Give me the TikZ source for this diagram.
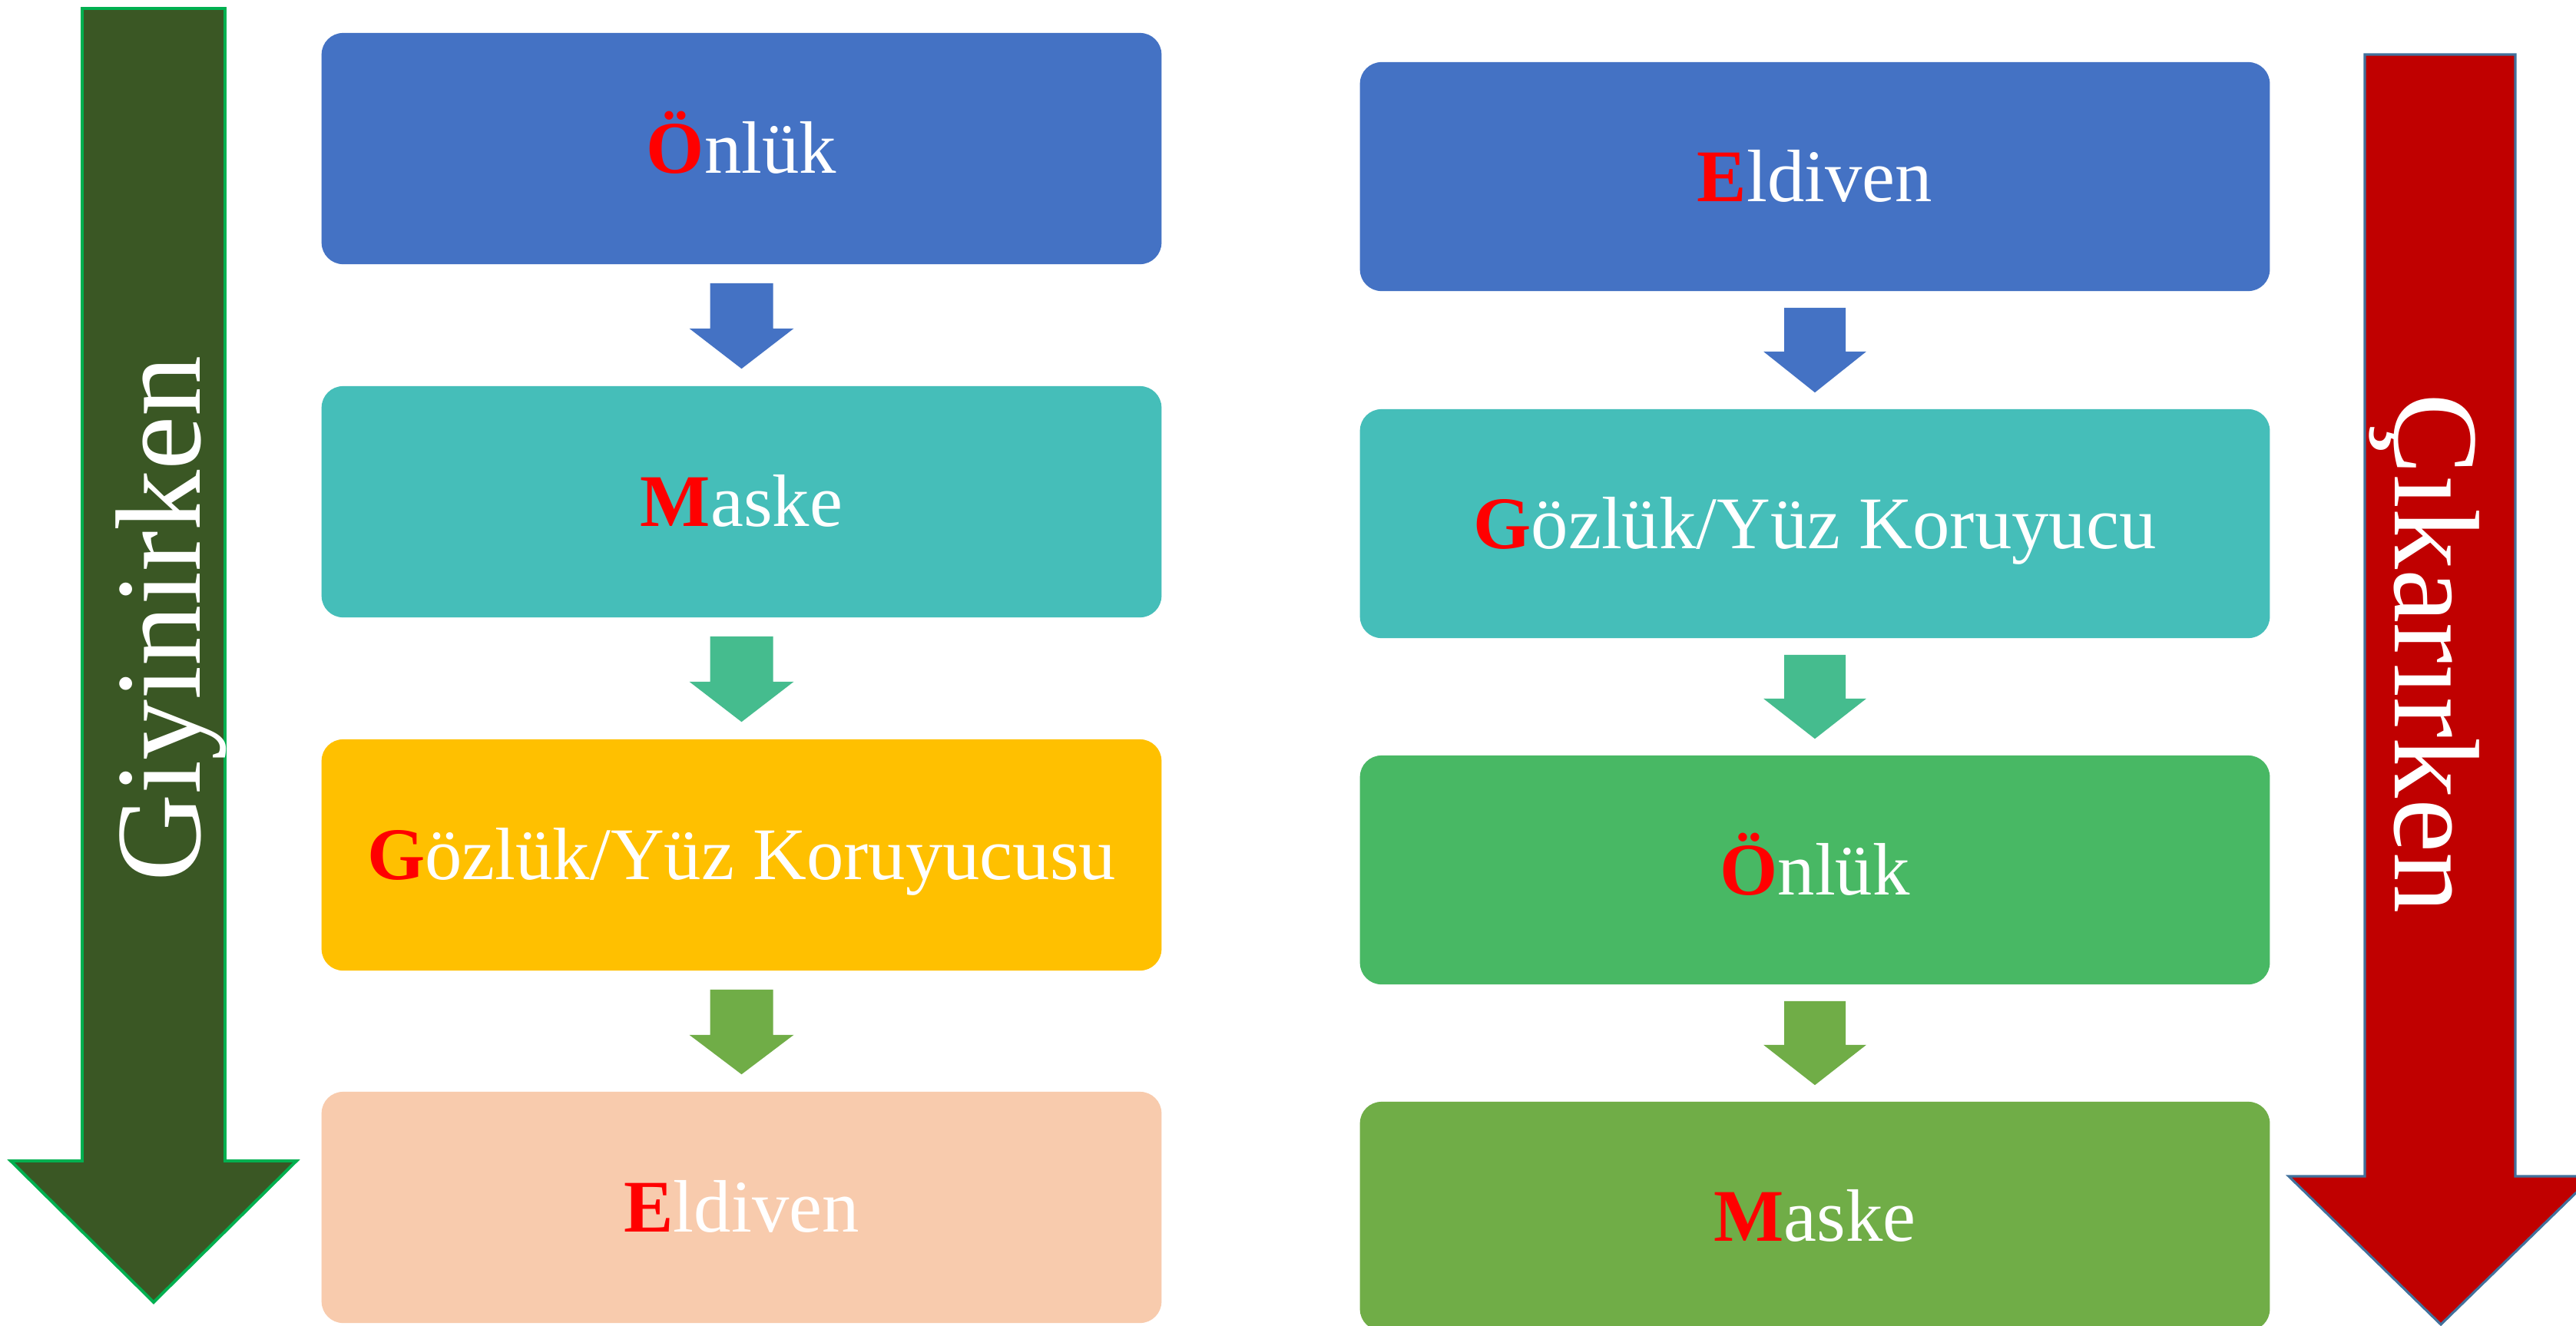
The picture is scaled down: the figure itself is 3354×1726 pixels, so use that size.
\documentclass[tikz,border=0pt]{standalone}
\usepackage{fontspec}
\setmainfont{Liberation Serif}
\usetikzlibrary{calc}
\definecolor{boxblue}{RGB}{68,114,196}
\definecolor{boxteal}{RGB}{69,190,185}
\definecolor{boxgold}{RGB}{255,192,0}
\definecolor{boxpeach}{RGB}{248,203,173}
\definecolor{boxgreen}{RGB}{72,184,100}
\definecolor{boxolive}{RGB}{112,173,71}
\definecolor{arrowmint}{RGB}{69,188,142}
\definecolor{giyfill}{RGB}{58,87,36}
\definecolor{giyline}{RGB}{0,176,80}
\definecolor{cikfill}{RGB}{192,0,0}
\definecolor{cikline}{RGB}{65,113,156}
\newcommand{\ini}[1]{\textcolor{red}{\textbf{#1}}}
\tikzset{
  box/.style={rounded corners=0.28cm, inner sep=0pt, text=white,
    font=\fontsize{27.5}{33}\selectfont, text height=0.7cm, text depth=0.06cm},
  leftbox/.style={box, minimum width=10.93cm, minimum height=3.01cm},
  rightbox/.style={box, minimum width=11.84cm, minimum height=2.98cm},
  sidelabel/.style={text=white, font=\fontsize{45}{54}\selectfont, anchor=base, inner sep=0pt}
}
\begin{document}
\begin{tikzpicture}[x=0.01cm, y=-0.01cm]
  \useasboundingbox (0,0) rectangle (3354,1726);
  \fill[white] (0,0) rectangle (3354,1726);
  % big arrows
  \filldraw[fill=giyfill, draw=giyline, line width=1.1pt] (107,11) -- (293,11) -- (293,1512) -- (386,1512) -- (200,1696) -- (14,1512) -- (107,1512) -- cycle;
  \filldraw[fill=cikfill, draw=cikline, line width=0.9pt] (3079,71) -- (3275,71) -- (3275,1532) -- (3376,1532) -- (3178,1725) -- (2980,1532) -- (3079,1532) -- cycle;
  \node[sidelabel, rotate=90] (giy) at (260,806) {Giyinirken};
  \node[sidelabel, rotate=-90] (cik) at (3118,851) {Çıkarırken};
  % left column
  \node[leftbox, fill=boxblue] (l1) at (965.5,193.5) {\ini{Ö}nlük};
  \node[leftbox, fill=boxteal] (l2) at (965.5,653.5) {\ini{M}aske};
  \node[leftbox, fill=boxgold] (l3) at (965.5,1113.5) {\ini{G}özlük/Yüz Koruyucusu};
  \node[leftbox, fill=boxpeach] (l4) at (965.5,1572.5) {\ini{E}ldiven};
  \fill[boxblue] ($(l1.south)+(-41,24)$) -- ++(82,0) -- ++(0,59) -- ++(27,0) -- ($(l2.north)+(0,-22)$) -- ($(l1.south)+(-68,83)$) -- ++(27,0) -- cycle;
  \fill[arrowmint] ($(l2.south)+(-41,24)$) -- ++(82,0) -- ++(0,59) -- ++(27,0) -- ($(l3.north)+(0,-22)$) -- ($(l2.south)+(-68,83)$) -- ++(27,0) -- cycle;
  \fill[boxolive] ($(l3.south)+(-41,24)$) -- ++(82,0) -- ++(0,59) -- ++(27,0) -- ($(l4.north)+(0,-22)$) -- ($(l3.south)+(-68,83)$) -- ++(27,0) -- cycle;
  % right column
  \node[rightbox, fill=boxblue] (r1) at (2363,230) {\ini{E}ldiven};
  \node[rightbox, fill=boxteal] (r2) at (2363,682) {\ini{G}özlük/Yüz Koruyucu};
  \node[rightbox, fill=boxgreen] (r3) at (2363,1133) {\ini{Ö}nlük};
  \node[rightbox, fill=boxolive] (r4) at (2363,1584) {\ini{M}aske};
  \fill[boxblue] ($(r1.south)+(-40,21)$) -- ++(80,0) -- ++(0,57) -- ++(27,0) -- ($(r2.north)+(0,-21)$) -- ($(r1.south)+(-67,78)$) -- ++(27,0) -- cycle;
  \fill[arrowmint] ($(r2.south)+(-40,21)$) -- ++(80,0) -- ++(0,57) -- ++(27,0) -- ($(r3.north)+(0,-21)$) -- ($(r2.south)+(-67,78)$) -- ++(27,0) -- cycle;
  \fill[boxolive] ($(r3.south)+(-40,21)$) -- ++(80,0) -- ++(0,57) -- ++(27,0) -- ($(r4.north)+(0,-21)$) -- ($(r3.south)+(-67,78)$) -- ++(27,0) -- cycle;
\end{tikzpicture}
\end{document}
